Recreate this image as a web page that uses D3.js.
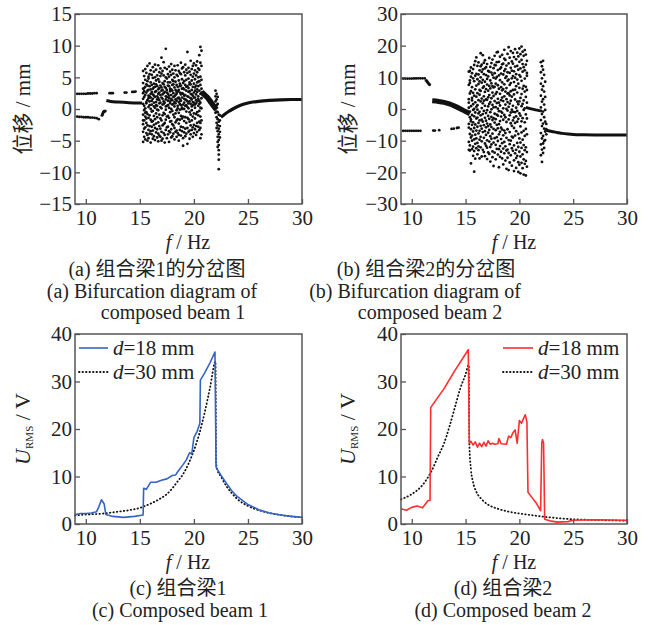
<!DOCTYPE html>
<html><head><meta charset="utf-8">
<script src="https://cdn.jsdelivr.net/npm/d3@7"></script>
<style>
body{margin:0;background:#fff}
text{font-family:"Liberation Serif","Times New Roman",serif;fill:#222}
.cjk{font-family:"Noto Sans CJK SC",sans-serif}
</style></head><body>
<svg id="fig" width="649" height="625"></svg>
<script>
//////// data

var xTicks = [10, 15, 20, 25, 30]
var yTicksA = [-15, -10, -5, 0, 5, 10, 15]
var yTicksB = [-30, -20, -10, 0, 10, 20, 30]
var yTicksU = [0, 10, 20, 30, 40]

// (a) bifurcation, composed beam 1 : [f, displacement]
var aUpper = [[9.2,2.4],[9.4,2.4],[9.6,2.4],[9.8,2.4],[10.0,2.4],[10.2,2.45],[10.4,2.45],[10.6,2.45],[10.8,2.5],[11.0,2.5]]
var aLower = [[9.2,-1.2],[9.4,-1.25],[9.6,-1.25],[9.8,-1.3],[10.0,-1.3],[10.2,-1.3],[10.4,-1.35],[10.6,-1.35],[10.8,-1.4],[11.0,-1.45],[11.2,-1.6]]
var aArc = [[11.5,-1.0],[11.55,-0.8],[11.6,-0.6],[11.65,-0.45],[11.7,-0.35],[11.8,-0.3]]
var aSparse = [[12.2,2.5],[12.35,2.5],[12.5,2.5],[13.6,2.6],[13.75,2.6],[14.3,2.7],[14.45,2.7],[14.6,2.75]]
var aBranch = [[11.9,1.35],[12.3,1.2],[13.0,1.1],[14.0,1.0],[15.2,0.95]]
var aBand = [[20.7,2.7],[21.0,2.2],[21.3,1.7],[21.6,1.0],[21.9,0.3],[22.1,-0.1]]
var aRight = [[22.5,-1.3],[22.8,-0.9],[23.2,-0.4],[23.6,0.0],[24.0,0.35],[24.5,0.7],[25,0.95],[26,1.2],[27,1.35],[28,1.45],[29,1.5],[30,1.5]]
var aChaos = [
  [15.3,[6.0,4.1,2.5,0.8,-0.9,-2.4,-3.6,-5.2,1.6,3.2,-1.8]],
  [15.4,[5.2,3.3,1.9,-0.2,-1.8,-3.1,-4.4,0.5,2.8]],
  [15.5,[6.3,4.6,2.2,0.1,-1.2,-2.9,-4.8,3.5,-0.6]],
  [15.6,[5.7,3.9,1.1,-0.5,-2.2,-3.8,2.6,0.9,-1.5]],
  [15.7,[6.8,4.4,2.9,1.4,-0.8,-2.6,-4.1,-5.0,3.7]],
  [15.8,[5.1,3.0,1.7,0.3,-1.4,-3.3,-4.6,2.1,4.8]],
  [15.9,[7.2,5.5,3.6,2.0,0.6,-1.0,-2.7,-3.9,1.2]],
  [16.0,[6.1,4.2,2.4,0.0,-1.7,-3.5,-5.3,3.1,1.8]],
  [16.1,[5.4,3.8,2.7,1.3,-0.4,-2.0,-4.0,0.7,-2.8]],
  [16.2,[6.6,4.9,3.2,1.6,-0.3,-1.9,-3.4,-4.7,2.3]],
  [16.3,[5.9,4.0,2.1,0.4,-1.1,-2.5,-4.3,3.4,1.0]],
  [16.4,[7.0,5.0,3.5,1.9,0.2,-1.6,-3.0,-4.9,2.7]],
  [16.5,[6.2,4.5,2.8,1.1,-0.7,-2.3,-3.7,0.6,3.9]],
  [16.6,[5.3,3.6,2.0,0.5,-1.3,-3.2,-4.5,1.5,-0.1]],
  [16.7,[6.9,4.7,3.1,1.7,-0.2,-2.1,-3.9,-5.1,2.4]],
  [16.8,[5.8,4.3,2.6,0.9,-0.9,-2.7,-4.2,3.3,1.4]],
  [16.9,[6.4,5.2,3.7,2.2,0.3,-1.5,-3.1,-4.4,1.0]],
  [17.0,[8.1,5.6,3.4,1.8,0.1,-1.8,-3.6,-5.0,2.9]],
  [17.1,[6.0,4.1,2.3,0.7,-1.0,-2.6,-4.7,3.0,1.6]],
  [17.2,[7.4,5.3,3.9,2.5,0.8,-0.6,-2.4,-3.8,1.2]],
  [17.3,[6.5,4.4,2.7,1.0,-0.8,-2.2,-4.1,-5.3,3.5]],
  [17.4,[9.5,5.0,3.3,1.5,-0.1,-1.7,-3.3,2.0,0.4]],
  [17.5,[6.3,4.8,3.0,1.9,0.5,-1.2,-2.9,-4.6,2.6]],
  [17.6,[5.5,3.7,2.4,0.6,-1.1,-2.8,-4.0,1.3,4.2]],
  [17.7,[6.7,5.1,3.6,2.1,0.2,-1.4,-3.5,-5.2,1.7]],
  [17.8,[5.9,4.2,2.8,1.2,-0.5,-2.0,-3.7,3.2,0.9]],
  [17.9,[7.1,5.4,3.1,1.6,0.0,-1.9,-3.2,-4.5,2.2]],
  [18.0,[6.2,4.6,2.9,1.4,-0.3,-2.4,-4.3,3.8,0.7]],
  [18.1,[5.6,3.9,2.5,0.8,-0.9,-2.6,-3.9,1.9,4.4]],
  [18.2,[6.8,5.0,3.4,2.0,0.4,-1.3,-3.0,-4.8,1.1]],
  [18.3,[6.1,4.3,2.2,0.9,-0.7,-2.1,-3.6,3.0,1.5]],
  [18.4,[5.4,3.8,2.7,1.3,-0.2,-1.8,-3.4,-4.4,2.4]],
  [18.5,[6.9,5.2,3.5,1.7,0.1,-1.6,-3.8,2.8,0.5]],
  [18.6,[6.0,4.5,3.0,1.1,-0.6,-2.3,-4.1,-5.0,1.8]],
  [18.7,[5.7,4.0,2.6,1.5,-0.1,-1.7,-3.3,3.6,0.8]],
  [18.8,[7.3,5.5,3.7,2.3,0.6,-1.1,-2.8,-4.2,1.3]],
  [18.9,[6.4,4.7,3.2,1.8,0.2,-1.5,-3.5,2.5,0.0]],
  [19.0,[6.6,4.1,2.4,0.7,-1.2,-2.9,-4.6,-5.8,3.3]],
  [19.1,[5.8,4.4,3.1,1.6,0.0,-1.9,-3.7,2.1,1.0]],
  [19.2,[7.0,5.3,3.8,2.2,0.5,-1.3,-3.1,-4.3,1.5]],
  [19.3,[6.2,4.6,2.9,1.4,-0.4,-2.2,-3.9,3.5,0.6]],
  [19.4,[9.0,5.7,3.6,2.0,0.3,-1.4,-3.0,-5.5,1.2]],
  [19.5,[6.5,4.8,3.3,1.9,0.1,-1.6,-3.6,2.7,0.9]],
  [19.6,[5.9,4.2,2.8,1.2,-0.5,-2.0,-3.4,-4.7,3.9]],
  [19.7,[7.6,5.4,3.9,2.4,0.8,-0.9,-2.6,-4.0,1.7]],
  [19.8,[6.3,4.5,3.0,1.5,-0.2,-1.8,-3.3,2.3,0.4]],
  [19.9,[6.8,5.1,3.5,2.1,0.6,-1.2,-2.9,-4.4,1.1]],
  [20.0,[7.2,5.6,4.0,2.6,1.0,-0.7,-2.5,-3.8,1.8]],
  [20.1,[6.1,4.7,3.4,1.8,0.2,-1.5,-3.2,2.9,0.7]],
  [20.2,[6.9,5.3,3.7,2.3,0.9,-0.8,-2.7,-4.1,1.4]],
  [20.3,[7.5,5.8,4.2,2.7,1.2,-0.5,-2.2,-3.6,3.1]],
  [20.4,[6.4,5.0,3.6,2.0,0.5,-1.0,-2.8,1.6,4.3]],
  [20.5,[8.5,6.2,4.4,2.9,1.3,-0.3,-2.0,-3.3,0.8]],
  [20.6,[9.8,7.3,5.1,3.8,2.4,1.0,-1.2,-3.0,-4.6,0.2,-2.2]],
  [20.7,[9.2,6.8,4.6,3.2,1.7,0.1,-1.8,-4.0,2.6]]
]
var aStreak = [
  [22.0,[2.9,2.0,1.2,0.3,-0.6]],
  [22.1,[2.4,1.5,0.6,-0.4,-1.3,-2.2,-3.0]],
  [22.2,[1.9,0.8,-0.5,-1.6,-2.6,-3.5,-4.4,-5.2,-6.0]],
  [22.3,[-0.9,-2.0,-3.1,-4.0,-4.9,-5.7,-6.5,-7.2,-8.0,-9.5]],
  [22.4,[-1.0,-1.8,-2.7,-3.6,-4.5]]
]

// (b) bifurcation, composed beam 2
var bUpper = [[9.2,9.6],[9.4,9.6],[9.6,9.6],[9.8,9.6],[10.0,9.6],[10.2,9.65],[10.4,9.65],[10.6,9.7],[10.8,9.7],[11.0,9.7],[11.2,9.7]]
var bDrop = [[11.35,9.0],[11.45,8.6],[11.55,8.1],[11.65,7.7]]
var bLower = [[9.2,-6.9],[9.4,-6.9],[9.6,-6.9],[9.8,-6.9],[10.0,-6.9],[10.2,-6.9],[10.4,-6.9],[10.6,-6.9],[10.8,-6.9]]
var bSparse = [[12.0,-6.8],[12.15,-6.8],[12.55,-6.7],[13.7,-6.3],[13.9,-6.2],[14.2,-6.0],[14.35,-5.9]]
var bBranch = [[11.9,2.6],[12.5,2.4],[13.0,2.1],[13.5,1.6],[14.0,0.9],[14.5,0.1],[15.0,-0.8],[15.4,-1.5]]
var bMid = [[20.6,0.5],[21.0,0.1],[21.5,-0.3],[22.1,-0.7]]
var bRight = [[22.5,-6.7],[23,-7.1],[23.5,-7.4],[24,-7.7],[24.5,-7.9],[25,-8.05],[26,-8.15],[27,-8.2],[28,-8.2],[30,-8.2]]
var bChaos = [
  [15.3,[11.8,3.1,2.0,-4.7,-5.9,-10.4,7.6,-12.9,0.4]],
  [15.4,[9.0,8.2,-0.8,-7.9,-11.5,4.9,-2.6,12.0,-13.1]],
  [15.5,[13.1,5.6,-3.3,-3.9,-9.0,0.9,-17.2,10.2,-6.4]],
  [15.6,[6.9,11.3,-1.9,-8.4,-12.7,2.7,3.5,-5.0,-10.0]],
  [15.7,[12.6,1.5,-4.2,-7.1,9.7,-14.8,-0.3,5.1,-11.9]],
  [15.8,[-19.8,8.8,4.2,-2.3,-9.6,13.9,-6.0,0.0,-13.3]],
  [15.9,[15.1,6.2,-1.1,-11.0,2.1,-4.9,10.5,-15.7,-8.1]],
  [16.0,[16.3,11.1,3.9,-3.0,-12.4,-6.8,0.7,7.4,-9.3]],
  [16.1,[9.4,13.6,-0.2,-5.6,-14.3,5.0,1.2,-10.7,-2.7]],
  [16.2,[14.7,7.9,2.8,-7.7,-11.8,-1.4,10.9,-4.4,-13.0]],
  [16.3,[12.2,4.5,-3.6,-9.7,6.0,-0.9,-15.6,8.7,-6.9]],
  [16.4,[17.6,10.0,2.4,-2.0,-5.3,-12.1,13.5,-8.8,5.7]],
  [16.5,[8.3,14.0,0.3,-6.2,-10.2,3.3,-15.0,-3.4,11.7]],
  [16.6,[17.0,6.7,-1.6,-12.9,9.2,-7.3,1.8,-4.0,12.5]],
  [16.7,[11.0,4.0,-9.1,-5.1,14.6,-0.6,-13.6,7.1,2.6]],
  [16.8,[15.4,8.6,1.0,-2.8,-10.9,-7.0,5.4,-14.9,12.8]],
  [16.9,[10.7,3.0,-5.8,-11.6,6.3,-1.3,13.2,-8.2,-3.7]],
  [17.0,[14.2,9.5,-0.4,-4.6,-15.8,-9.9,2.9,7.7,-12.2]],
  [17.1,[12.0,5.8,-2.2,-7.5,0.8,-13.7,10.3,3.7,-5.4]],
  [17.2,[16.1,7.3,1.6,-10.3,-3.1,-14.2,11.8,4.4,-6.6]],
  [17.3,[13.3,2.2,-1.0,-8.6,-16.6,9.0,-4.9,6.5,-12.0]],
  [17.4,[11.5,8.1,-0.1,-5.7,-11.2,14.5,3.4,-2.5,-9.4]],
  [17.5,[15.6,5.2,-3.5,-13.4,1.3,-7.8,10.8,-15.2,7.2]],
  [17.6,[9.9,12.9,0.5,-6.3,-18.0,-10.6,4.1,-2.9,6.8]],
  [17.7,[16.8,7.0,-1.5,-9.2,2.5,-13.8,11.3,-4.3,13.9]],
  [17.8,[13.8,4.7,-3.2,-11.3,9.6,-6.7,-15.9,0.6,8.0]],
  [17.9,[17.9,10.1,1.9,-5.0,-8.9,14.8,-12.6,5.3,-1.8]],
  [18.0,[18.0,12.3,3.2,-2.1,-10.1,7.5,-14.4,-6.1,0.1]],
  [18.1,[14.9,6.4,-0.7,-8.0,-18.4,10.6,-4.8,2.0,-12.7]],
  [18.2,[16.5,9.1,4.8,-3.8,-11.7,-7.2,12.7,-15.1,1.1]],
  [18.3,[11.2,13.1,-0.8,-5.9,-13.5,6.9,2.8,-9.5,-2.4]],
  [18.4,[17.1,8.4,3.6,-6.5,-10.8,14.1,-1.2,-15.6,5.9]],
  [18.5,[14.3,10.9,0.2,-3.4,-12.5,-17.5,6.3,-8.3,2.5]],
  [18.6,[18.7,12.0,7.8,-1.9,-14.0,15.9,-6.8,4.0,-10.4]],
  [18.7,[15.5,5.5,-2.6,-11.8,9.8,-16.3,1.4,-7.6,12.6]],
  [18.8,[10.3,13.7,3.1,-4.1,-18.9,-9.1,6.6,-13.1,0.0]],
  [18.9,[17.4,8.9,-0.5,-6.4,-12.8,11.6,2.2,-15.4,4.9]],
  [19.0,[19.5,14.4,5.0,-3.3,-9.8,-19.3,9.3,-13.9,0.7]],
  [19.1,[16.2,7.6,1.7,-7.3,-16.9,11.4,-2.0,-11.1,4.3]],
  [19.2,[18.3,13.0,2.6,-4.5,-10.0,8.2,-14.6,-1.1,5.6]],
  [19.3,[15.0,9.7,-0.2,-8.7,-17.9,12.1,-5.3,3.9,-12.4]],
  [19.4,[17.7,6.0,1.0,-3.6,-13.2,10.4,-9.0,14.3,-0.9]],
  [19.5,[16.4,11.9,4.6,-6.0,-19.6,8.5,-11.5,-2.7,-16.2]],
  [19.6,[18.9,13.4,3.0,-1.0,-8.4,9.9,-14.0,6.1,-4.4]],
  [19.7,[15.7,7.2,-2.3,-12.9,-18.6,11.0,0.4,-7.0,-15.5]],
  [19.8,[17.8,9.3,5.2,-4.0,-10.7,13.6,-0.6,-14.8,2.3]],
  [19.9,[16.6,12.4,1.5,-7.9,-19.9,8.0,-3.1,-12.0,-16.8]],
  [20.0,[19.1,14.9,6.7,-1.4,-9.3,10.7,2.4,-13.5,-17.6]],
  [20.1,[17.3,10.2,3.5,-5.5,-15.0,12.8,-2.1,-10.6,-20.3]],
  [20.2,[19.7,15.5,8.9,0.9,-7.4,4.7,-12.3,-3.9,-17.0]],
  [20.3,[18.1,11.8,6.4,-2.9,-9.7,14.2,-14.3,1.6,-18.7]],
  [20.4,[16.8,13.2,2.7,-6.9,-11.4,7.3,-0.3,-15.9,-20.7]],
  [20.5,[18.6,9.6,5.5,-4.2,-13.0,12.2,0.2,-8.5,-17.3]],
  [20.6,[17.2,14.0,7.0,-1.7,-12.1,3.8,-6.3,-16.4,-21.0]],
  [20.7,[15.2,10.5,2.0,-3.0,-8.0,6.0,-13.6,-18.2,11.4]]
]
var bStreak = [
  [22.0,[14.8,11.6,8.0,4.2,0.5,-3.5,-7.6,-11.2,-14.6]],
  [22.1,[13.5,9.7,6.1,2.3,-1.6,-5.4,-9.3,-12.8,-16.7]],
  [22.2,[15.2,12.4,7.2,3.1,-0.8,-4.6,-8.5,-10.9,-13.9]],
  [22.3,[10.8,5.5,1.4,-2.6,-6.2,-10.1,-12.3]],
  [22.4,[8.6,3.8,-0.3,-4.0,-7.1,-9.8]],
  [22.5,[-4.7,-6.4,-8.0]]
]

// (c) U_RMS, composed beam 1 : [f, U]
var c18 = [[9,2.0],[9.5,2.2],[10,2.2],[10.5,2.3],[11,2.6],[11.2,3.6],[11.45,5.1],[11.7,4.2],[11.85,2.0],[12.5,1.6],[13.5,1.4],[14.5,1.6],[15.3,1.9],[15.35,7.5],[15.6,7.3],[16.0,8.8],[16.5,8.8],[17.0,9.2],[17.5,9.5],[18.0,10.2],[18.3,10.3],[18.5,11.0],[19.0,12.5],[19.3,13.5],[19.6,15.0],[19.8,14.7],[20.0,18.2],[20.3,19.5],[20.55,21.2],[20.6,30.3],[21.0,31.8],[21.5,34.0],[21.95,36.2],[22.05,12.0],[22.2,11.4],[22.5,10.3],[23,8.6],[23.5,7.0],[24,5.8],[25,4.1],[26,3.0],[27,2.3],[28,1.9],[29,1.6],[30,1.4]]
var c30 = [[9,1.8],[10,2.0],[11,2.1],[12,2.3],[13,2.6],[14,2.9],[15,3.4],[16,4.3],[17,5.5],[17.5,6.3],[18,7.5],[18.5,9.0],[19,10.5],[19.5,12.7],[20,15.5],[20.5,19.0],[21,23.5],[21.5,28.8],[22.0,34.2],[22.05,13.0],[22.2,11.2],[22.5,10.0],[23,8.0],[23.5,6.5],[24,5.3],[25,3.8],[26,2.9],[27,2.3],[28,1.9],[29,1.6],[30,1.4]]

// (d) U_RMS, composed beam 2
var d18 = [[9,3.2],[9.5,2.9],[10,3.5],[10.5,3.8],[11,3.4],[11.5,4.9],[11.7,5.0],[11.76,24.5],[12,25.3],[13,28.5],[14,32.3],[15,35.8],[15.25,36.7],[15.35,17.0],[15.5,17.4],[15.7,16.6],[15.9,17.3],[16.1,16.2],[16.3,17.0],[16.5,16.3],[16.7,17.2],[16.9,16.4],[17.1,17.5],[17.3,16.8],[17.5,17.0],[17.7,16.8],[18.0,16.9],[18.1,18.0],[18.3,16.9],[18.8,16.8],[19.0,18.5],[19.2,18.2],[19.4,19.2],[19.6,19.8],[19.8,17.0],[20.0,21.8],[20.2,21.2],[20.4,22.3],[20.55,23.0],[20.7,21.5],[20.8,6.7],[21.2,5.5],[21.6,4.3],[21.97,2.8],[22.08,17.0],[22.15,17.8],[22.25,17.0],[22.35,1.0],[23,0.6],[23.5,0.4],[24.5,0.5],[25,0.8],[27,0.9],[30,0.8]]
var d30 = [[9,5.2],[10,6.3],[11,8.2],[11.8,11.0],[12.5,14.5],[13,17.0],[13.5,20.5],[14,24.5],[14.5,28.5],[15,31.5],[15.3,33.5],[15.35,17.0],[15.5,11.5],[15.7,8.8],[16,6.8],[16.5,5.2],[17,4.2],[17.5,3.6],[18,3.2],[19,2.6],[20,2.2],[21,1.9],[22,1.6],[23,1.35],[25,1.0],[27,0.85],[30,0.7]]

//////// layout

var svg = d3.select("#fig")
var ink = "#111"
var frameCol = "#555"

function panel(box, yDom, yTicks) {
  var x = d3.scaleLinear().domain([9, 30]).range([box.x0, box.x1])
  var y = d3.scaleLinear().domain(yDom).range([box.y1, box.y0])
  var g = svg.append("g")
  var data = g.append("g")

  var ax = g.append("g").attr("transform", "translate(0," + box.y1 + ")")
    .call(d3.axisBottom(x).tickValues(xTicks).tickSizeInner(-5).tickSizeOuter(0).tickPadding(6))
  var ay = g.append("g").attr("transform", "translate(" + box.x0 + ",0)")
    .call(d3.axisLeft(y).tickValues(yTicks).tickSizeInner(-5).tickSizeOuter(0).tickPadding(3))
  ;[ax, ay].forEach(function (a) {
    a.select(".domain").remove()
    a.selectAll("line").attr("stroke", frameCol).attr("stroke-width", 1.3)
    a.selectAll("text").style("font-size", "21px").attr("fill", "#222")
  })
  g.append("rect").attr("x", box.x0).attr("y", box.y0)
    .attr("width", box.x1 - box.x0).attr("height", box.y1 - box.y0)
    .attr("fill", "none").attr("stroke", frameCol).attr("stroke-width", 1.5)
  return { x: x, y: y, g: data }
}

function dots(p, pts, r) {
  p.g.append("g").selectAll("circle").data(pts).join("circle")
    .attr("cx", d => p.x(d[0])).attr("cy", d => p.y(d[1])).attr("r", r).attr("fill", ink)
}
function columns(p, cols, r) {
  var pts = []
  cols.forEach(c => c[1].forEach(v => pts.push([c[0], v])))
  dots(p, pts, r)
}
function curve(p, pts, w, col, dash, kind) {
  var line = d3.line().x(d => p.x(d[0])).y(d => p.y(d[1])).curve(kind || d3.curveLinear)
  var path = p.g.append("path").attr("d", line(pts)).attr("fill", "none")
    .attr("stroke", col).attr("stroke-width", w).attr("stroke-linejoin", "round")
  if (dash) path.attr("stroke-dasharray", dash).attr("stroke-linecap", "round")
}

//////// (a)
var pa = panel({ x0: 75, x1: 302, y0: 14, y1: 204 }, [-15, 15], yTicksA)
dots(pa, aUpper, 1.4); dots(pa, aLower, 1.4); dots(pa, aArc, 1.5); dots(pa, aSparse, 1.4)
curve(pa, aBranch, 3, ink, null, d3.curveMonotoneX)
columns(pa, aChaos, 1.4)
curve(pa, aBand, 5.5, ink, null, d3.curveMonotoneX)
columns(pa, aStreak, 1.4)
curve(pa, aRight, 3.2, ink, null, d3.curveMonotoneX)

//////// (b)
var pb = panel({ x0: 401, x1: 627, y0: 14, y1: 204 }, [-30, 30], yTicksB)
dots(pb, bUpper, 1.4); dots(pb, bDrop, 1.6); dots(pb, bLower, 1.4); dots(pb, bSparse, 1.4)
curve(pb, bBranch, 5, ink, null, d3.curveMonotoneX)
columns(pb, bChaos, 1.4)
curve(pb, bMid, 2.8, ink, null, d3.curveMonotoneX)
columns(pb, bStreak, 1.4)
curve(pb, bRight, 3, ink, null, d3.curveMonotoneX)

//////// (c)
var blue = "#3563c4", red = "#ff2d2d"
var pc = panel({ x0: 75, x1: 302, y0: 334, y1: 524 }, [0, 40], yTicksU)
curve(pc, c30, 1.8, ink, "0.5,3", d3.curveMonotoneX)
curve(pc, c18, 1.6, blue)

//////// (d)
var pd = panel({ x0: 401, x1: 627, y0: 334, y1: 524 }, [0, 40], yTicksU)
curve(pd, d30, 1.8, ink, "0.5,3", d3.curveMonotoneX)
curve(pd, d18, 1.6, red)

//////// labels
function legendRow(x1, x2, y, col, dash, label) {
  var l = svg.append("line").attr("x1", x1).attr("x2", x2).attr("y1", y).attr("y2", y)
    .attr("stroke", col).attr("stroke-width", col === ink ? 1.8 : 1.6)
  if (dash) l.attr("stroke-dasharray", dash).attr("stroke-linecap", "round")
  var t = svg.append("text").attr("x", x2 + 5).attr("y", y + 7).style("font-size", "21px")
  t.append("tspan").style("font-style", "italic").text("d")
  t.append("tspan").text(label)
}
legendRow(79, 108, 348, blue, null, "=18 mm")
legendRow(79, 108, 372, ink, "0.5,3", "=30 mm")
legendRow(503, 533, 348, red, null, "=18 mm")
legendRow(503, 533, 372, ink, "0.5,3", "=30 mm")

function xLabel(cx, y) {
  var t = svg.append("text").attr("x", cx).attr("y", y).attr("text-anchor", "middle").style("font-size", "20px")
  t.append("tspan").style("font-style", "italic").text("f")
  t.append("tspan").text(" / Hz")
}
xLabel(188, 249); xLabel(514, 249); xLabel(188, 569); xLabel(514, 569)

function yDisp(cx, cy) {
  var t = svg.append("text").attr("transform", "translate(" + cx + "," + cy + ") rotate(-90)")
    .attr("text-anchor", "middle").style("font-size", "21px")
  t.append("tspan").attr("class", "cjk").text("位移")
  t.append("tspan").text(" / mm")
}
yDisp(30, 109); yDisp(355, 109)

function yU(cx, cy) {
  var t = svg.append("text").attr("transform", "translate(" + cx + "," + cy + ") rotate(-90)")
    .attr("text-anchor", "middle").style("font-size", "22px")
  t.append("tspan").style("font-style", "italic").text("U")
  t.append("tspan").style("font-size", "11px").attr("dy", 3).text("RMS")
  t.append("tspan").attr("dy", -3).text(" / V")
}
yU(30, 429); yU(355, 429)

function caption(x, y, parts) {
  var t = svg.append("text").attr("x", x).attr("y", y).attr("text-anchor", "middle").style("font-size", "20px")
  parts.forEach(p => {
    var s = t.append("tspan").text(p[0])
    if (p[1]) s.attr("class", "cjk")
  })
}
caption(157, 276, [["(a) "], ["组合梁", 1], ["1"], ["的分岔图", 1]])
caption(152, 298, [["(a) Bifurcation diagram of"]])
caption(173, 319, [["composed beam 1"]])
caption(426, 276, [["(b) "], ["组合梁", 1], ["2"], ["的分岔图", 1]])
caption(415, 298, [["(b) Bifurcation diagram of"]])
caption(430, 319, [["composed beam 2"]])
caption(178, 595, [["(c) "], ["组合梁", 1], ["1"]])
caption(180, 617, [["(c) Composed beam 1"]])
caption(503, 595, [["(d) "], ["组合梁", 1], ["2"]])
caption(503, 617, [["(d) Composed beam 2"]])
</script>
</body></html>
